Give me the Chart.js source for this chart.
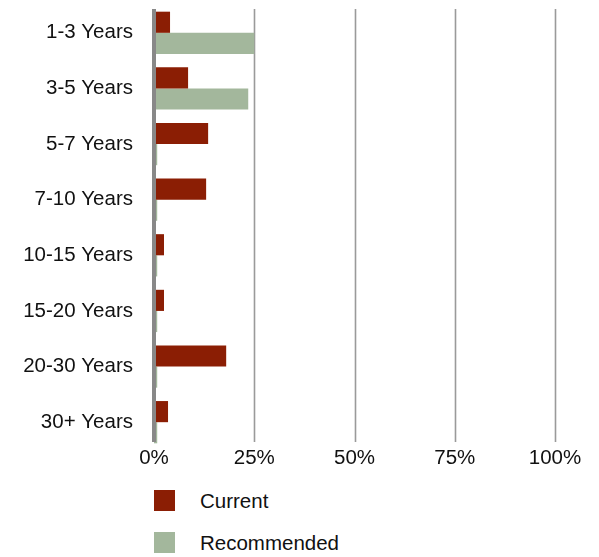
<!DOCTYPE html>
<html>
<head>
<meta charset="utf-8">
<script src="https://cdn.jsdelivr.net/npm/chart.js@4"></script>
<style>
  body { margin: 0; background: #fff; font-family: "Liberation Sans", Arial, sans-serif; }
  #legend { position: absolute; left: 154px; top: 490px; }
  .item { display: flex; align-items: center; height: 21px; margin-bottom: 21px; font-size: 20.5px; color: #111; }
  .box { width: 21px; height: 21px; margin-right: 25px; }
</style>
</head>
<body>
<canvas id="myChart" width="599" height="475"></canvas>
<div id="legend"></div>
<script>
const categories = ['1-3 Years', '3-5 Years', '5-7 Years', '7-10 Years', '10-15 Years', '15-20 Years', '20-30 Years', '30+ Years'];
const valuesCurrent = [4, 8.5, 13.5, 13, 2.5, 2.5, 18, 3.5];
const valuesRecommended = [25, 23.5, 0.8, 0.8, 0.8, 0.8, 0.8, 0.8];
const tickValues = [0, 25, 50, 75, 100];

const GRID_TOP = 9;
const GRID_BOTTOM = 442;

// grid lines and the zero axis, drawn by hand so they stop short of the plot edges
const gridLines = {
    id: 'gridLines',
    beforeDatasetsDraw(chart) {
        const ctx = chart.ctx;
        const x = chart.scales.x;
        ctx.save();
        ctx.strokeStyle = '#9a9a9a';
        ctx.lineWidth = 1.6;
        tickValues.forEach(function (v) {
            if (v === 0) return;
            const px = Math.round(x.getPixelForValue(v)) + 0.5;
            ctx.beginPath();
            ctx.moveTo(px, GRID_TOP);
            ctx.lineTo(px, GRID_BOTTOM);
            ctx.stroke();
        });
        ctx.restore();
    },
    afterDatasetsDraw(chart) {
        const ctx = chart.ctx;
        const px = chart.scales.x.getPixelForValue(0);
        ctx.save();
        ctx.strokeStyle = '#888888';
        ctx.lineWidth = 4;
        ctx.beginPath();
        ctx.moveTo(px, GRID_TOP);
        ctx.lineTo(px, GRID_BOTTOM);
        ctx.stroke();
        ctx.restore();
    }
};

const ctx = document.getElementById('myChart');
const chart = new Chart(ctx, {
    type: 'bar',
    data: {
        labels: categories,
        datasets: [{
            label: 'Current',
            data: valuesCurrent,
            backgroundColor: '#8b1e04'
        }, {
            label: 'Recommended',
            data: valuesRecommended,
            backgroundColor: '#a3b79c'
        }]
    },
    options: {
        indexAxis: 'y',
        responsive: false,
        animation: false,
        layout: {
            padding: { top: 5, right: 44, bottom: 0, left: 0 }
        },
        datasets: {
            bar: { categoryPercentage: 0.76, barPercentage: 1.0 }
        },
        plugins: {
            legend: { display: false },
            tooltip: { enabled: false }
        },
        scales: {
            x: {
                min: 0,
                max: 100,
                afterBuildTicks: function (s) { s.ticks = tickValues.map(v => ({ value: v })); },
                afterFit: function (s) { s.height = 25; },
                grid: { display: false, drawTicks: false },
                border: { display: false },
                ticks: {
                    padding: -4,
                    color: '#111',
                    font: { family: 'Liberation Sans', size: 20.5 },
                    callback: v => v + '%'
                }
            },
            y: {
                afterFit: function (s) {
                    s.width = 154;
                    s.paddingTop = 0;
                    s.paddingBottom = 0;
                },
                grid: { display: false, drawTicks: false },
                border: { display: false },
                ticks: {
                    padding: 21,
                    color: '#111',
                    font: { family: 'Liberation Sans', size: 20.5 }
                }
            }
        }
    },
    plugins: [gridLines]
});

// legend list built from the datasets
const legend = document.getElementById('legend');
chart.data.datasets.forEach(function (ds) {
    const item = document.createElement('div');
    item.className = 'item';
    const box = document.createElement('div');
    box.className = 'box';
    box.style.background = ds.backgroundColor;
    const text = document.createElement('span');
    text.textContent = ds.label;
    item.appendChild(box);
    item.appendChild(text);
    legend.appendChild(item);
});
</script>
</body>
</html>
